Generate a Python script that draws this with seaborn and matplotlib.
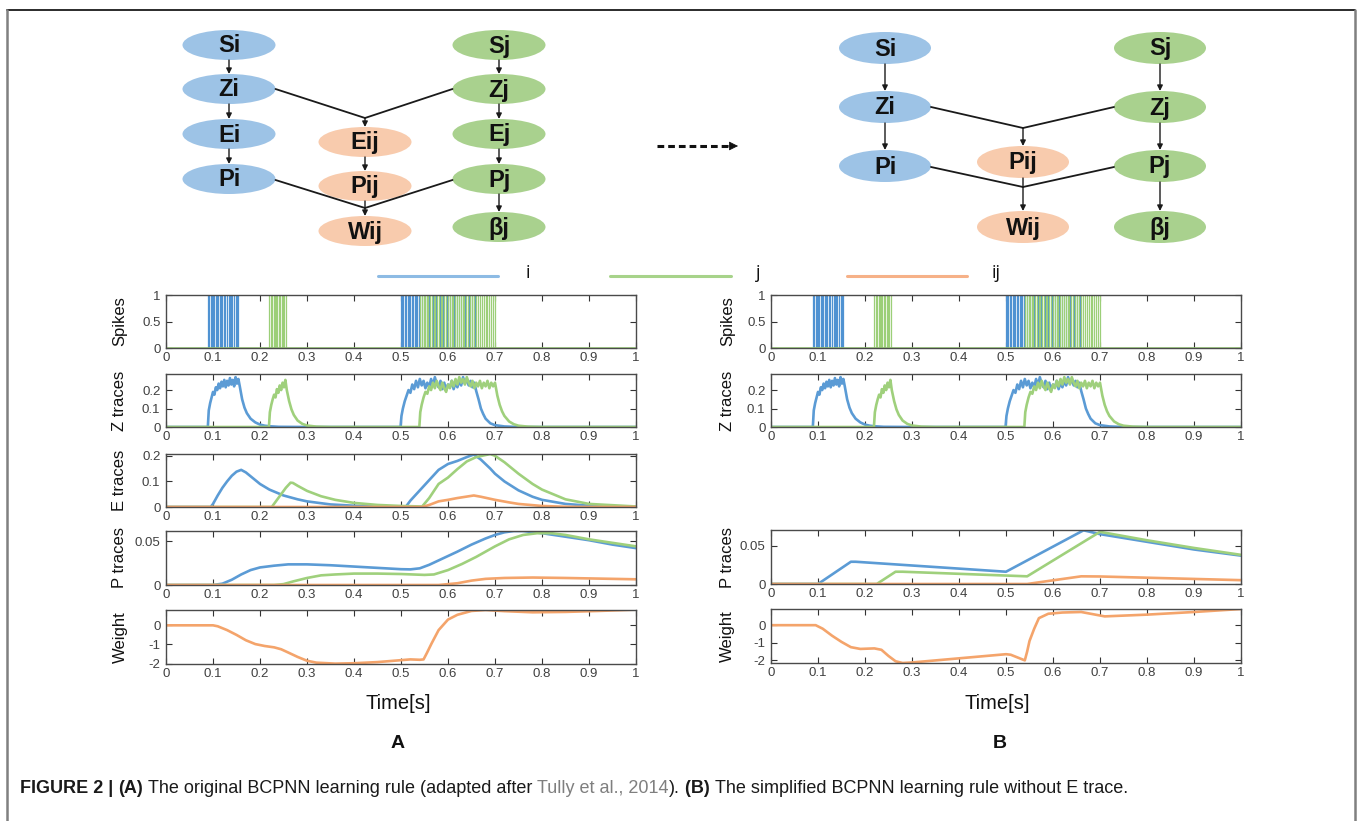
import numpy as np
import matplotlib
matplotlib.use('Agg')
import matplotlib.pyplot as plt
import seaborn as sns
from matplotlib.patches import Ellipse

sns.set_theme(style='white')
plt.rcParams['font.family'] = ['Liberation Sans', 'DejaVu Sans']
plt.rcParams['axes.unicode_minus'] = False

# ---------------- data ----------------
# spike times (s)
spk_i = [0.090, 0.092, 0.095, 0.098, 0.100, 0.103, 0.106, 0.109, 0.111, 0.114, 0.117, 0.120,
         0.124, 0.126, 0.129, 0.133, 0.136, 0.138, 0.141, 0.145, 0.148, 0.150, 0.154,
         0.500, 0.503, 0.505, 0.508, 0.511, 0.514, 0.517, 0.520, 0.523, 0.526, 0.529, 0.532,
         0.535, 0.538, 0.545, 0.552, 0.560, 0.568, 0.575, 0.583, 0.590, 0.598, 0.605, 0.612,
         0.620, 0.628, 0.636, 0.644, 0.652, 0.658]
spk_j = [0.220, 0.223, 0.226, 0.229, 0.231, 0.234, 0.237, 0.240, 0.243, 0.246, 0.249, 0.252, 0.255,
         0.541, 0.544, 0.548, 0.551, 0.555, 0.558, 0.562, 0.566, 0.570, 0.573, 0.577, 0.580,
         0.585, 0.588, 0.592, 0.596, 0.600, 0.604, 0.608, 0.611, 0.615, 0.619, 0.623, 0.627,
         0.631, 0.635, 0.639, 0.643, 0.647, 0.651, 0.655, 0.660, 0.664, 0.668, 0.672, 0.676,
         0.680, 0.684, 0.688, 0.692, 0.696, 0.699]

# Z traces
zi_t = [0.000, 0.089, 0.091, 0.094, 0.097, 0.100, 0.103, 0.106, 0.109, 0.112, 0.115, 0.118, 0.121,
        0.124, 0.127, 0.130, 0.133, 0.136, 0.139, 0.142, 0.145, 0.148, 0.151, 0.154, 0.157,
        0.162, 0.167, 0.172, 0.180, 0.190, 0.200, 0.210, 0.220, 0.240, 0.300,
        0.499, 0.501, 0.504, 0.508, 0.512, 0.516, 0.520, 0.524, 0.528, 0.532, 0.536, 0.540, 0.544,
        0.548, 0.552, 0.556, 0.560, 0.564, 0.568, 0.572, 0.576, 0.580, 0.584, 0.588, 0.592, 0.596,
        0.600, 0.604, 0.608, 0.612, 0.616, 0.620, 0.624, 0.628, 0.632, 0.636, 0.640, 0.644, 0.648,
        0.652, 0.656, 0.660, 0.665, 0.670, 0.675, 0.680, 0.690, 0.700, 0.720, 0.750, 1.000]
zi_v = [0.000, 0.000, 0.090, 0.130, 0.160, 0.190, 0.175, 0.215, 0.200, 0.235, 0.210, 0.245, 0.220,
        0.255, 0.215, 0.250, 0.225, 0.265, 0.230, 0.255, 0.220, 0.270, 0.235, 0.260, 0.220,
        0.150, 0.105, 0.075, 0.045, 0.025, 0.013, 0.007, 0.004, 0.001, 0.000,
        0.000, 0.060, 0.100, 0.140, 0.170, 0.200, 0.185, 0.230, 0.205, 0.250, 0.215, 0.260, 0.225,
        0.250, 0.210, 0.240, 0.215, 0.260, 0.225, 0.270, 0.235, 0.215, 0.250, 0.205, 0.240, 0.200,
        0.230, 0.215, 0.250, 0.205, 0.240, 0.215, 0.250, 0.225, 0.270, 0.235, 0.260, 0.225, 0.250,
        0.215, 0.240, 0.195, 0.150, 0.100, 0.070, 0.045, 0.020, 0.010, 0.003, 0.000, 0.000]
zj_t = [0.000, 0.219, 0.221, 0.224, 0.227, 0.230, 0.233, 0.236, 0.239, 0.242, 0.245, 0.248, 0.251,
        0.254, 0.257, 0.262, 0.267, 0.272, 0.280, 0.290, 0.300, 0.320, 0.350,
        0.539, 0.541, 0.544, 0.548, 0.552, 0.556, 0.560, 0.564, 0.568, 0.572, 0.576, 0.580, 0.584,
        0.588, 0.592, 0.596, 0.600, 0.604, 0.608, 0.612, 0.616, 0.620, 0.624, 0.628, 0.632, 0.636,
        0.640, 0.644, 0.648, 0.652, 0.656, 0.660, 0.664, 0.668, 0.672, 0.676, 0.680, 0.684, 0.688,
        0.692, 0.696, 0.700, 0.705, 0.710, 0.715, 0.720, 0.730, 0.740, 0.750, 0.770, 0.800, 1.000]
zj_v = [0.000, 0.000, 0.080, 0.120, 0.150, 0.175, 0.160, 0.205, 0.185, 0.225, 0.200, 0.240, 0.215,
        0.255, 0.200, 0.140, 0.095, 0.065, 0.035, 0.017, 0.008, 0.002, 0.000,
        0.000, 0.080, 0.120, 0.160, 0.190, 0.180, 0.220, 0.200, 0.240, 0.210, 0.250, 0.220, 0.200,
        0.240, 0.210, 0.190, 0.230, 0.210, 0.250, 0.220, 0.260, 0.230, 0.270, 0.240, 0.260, 0.230,
        0.270, 0.240, 0.220, 0.250, 0.210, 0.240, 0.220, 0.250, 0.210, 0.240, 0.220, 0.250, 0.210,
        0.240, 0.220, 0.240, 0.170, 0.120, 0.085, 0.060, 0.030, 0.015, 0.007, 0.002, 0.000, 0.000]

# E traces (panel A)
ei_t = [0.0, 0.095, 0.10, 0.11, 0.12, 0.13, 0.14, 0.15, 0.16, 0.17, 0.18, 0.19, 0.20, 0.22, 0.25,
        0.28, 0.30, 0.35, 0.40, 0.45, 0.51, 0.52, 0.54, 0.56, 0.58, 0.60, 0.62, 0.64, 0.655, 0.67,
        0.69, 0.70, 0.72, 0.75, 0.78, 0.80, 0.85, 0.90, 1.0]
ei_v = [0.0, 0.0, 0.012, 0.045, 0.075, 0.100, 0.122, 0.138, 0.145, 0.135, 0.120, 0.105, 0.090, 0.068, 0.045,
        0.030, 0.022, 0.010, 0.005, 0.002, 0.0, 0.025, 0.065, 0.105, 0.145, 0.168, 0.180, 0.195, 0.205, 0.185,
        0.150, 0.130, 0.100, 0.065, 0.040, 0.028, 0.012, 0.005, 0.001]
ej_t = [0.0, 0.225, 0.235, 0.245, 0.255, 0.265, 0.27, 0.28, 0.30, 0.33, 0.36, 0.40, 0.45, 0.50, 0.545,
        0.56, 0.58, 0.60, 0.62, 0.64, 0.66, 0.69, 0.70, 0.72, 0.75, 0.78, 0.80, 0.85, 0.90, 1.0]
ej_v = [0.0, 0.0, 0.025, 0.050, 0.075, 0.095, 0.094, 0.083, 0.063, 0.042, 0.028, 0.016, 0.008, 0.004, 0.002,
        0.035, 0.090, 0.115, 0.148, 0.178, 0.195, 0.207, 0.200, 0.175, 0.130, 0.090, 0.068, 0.030, 0.012, 0.002]
eij_t = [0.0, 0.545, 0.56, 0.58, 0.60, 0.62, 0.655, 0.67, 0.70, 0.73, 0.75, 0.80, 0.85, 0.90, 1.0]
eij_v = [0.0, 0.0, 0.008, 0.022, 0.028, 0.035, 0.045, 0.040, 0.028, 0.018, 0.012, 0.004, 0.001, 0.0, 0.0]

# P traces (panel A)
pAi_t = [0.0, 0.10, 0.12, 0.14, 0.16, 0.18, 0.20, 0.23, 0.26, 0.30, 0.35, 0.40, 0.45, 0.50, 0.52,
         0.54, 0.56, 0.58, 0.60, 0.62, 0.65, 0.68, 0.70, 0.72, 0.74, 0.76, 0.80, 0.85, 0.90, 0.95, 1.0]
pAi_v = [0.0, 0.0, 0.0015, 0.006, 0.012, 0.017, 0.020, 0.022, 0.0235, 0.0235, 0.0225, 0.021, 0.0195, 0.018, 0.0178,
         0.019, 0.023, 0.028, 0.033, 0.038, 0.046, 0.053, 0.057, 0.060, 0.0615, 0.0615, 0.059, 0.055, 0.051, 0.046, 0.042]
pAj_t = [0.0, 0.23, 0.25, 0.27, 0.30, 0.33, 0.36, 0.40, 0.45, 0.50, 0.55, 0.57, 0.60, 0.63, 0.66,
         0.70, 0.73, 0.76, 0.79, 0.82, 0.85, 0.90, 0.95, 1.0]
pAj_v = [0.0, 0.0, 0.001, 0.004, 0.008, 0.011, 0.012, 0.013, 0.013, 0.0125, 0.0115, 0.012, 0.017, 0.024, 0.032,
         0.044, 0.052, 0.057, 0.059, 0.059, 0.057, 0.052, 0.048, 0.044]
pAij_t = [0.0, 0.58, 0.62, 0.65, 0.68, 0.72, 0.78, 0.85, 0.90, 1.0]
pAij_v = [0.0, 0.0, 0.002, 0.005, 0.007, 0.008, 0.0085, 0.008, 0.0075, 0.0065]

# Weight (panel A)
wA_t = [0.0, 0.10, 0.11, 0.13, 0.15, 0.17, 0.19, 0.21, 0.23, 0.245, 0.26, 0.28, 0.30, 0.32, 0.36,
        0.40, 0.45, 0.50, 0.52, 0.54, 0.548, 0.555, 0.565, 0.58, 0.60, 0.62, 0.65, 0.68, 0.72, 0.78,
        0.85, 0.92, 1.0]
wA_v = [0.0, 0.0, -0.05, -0.25, -0.50, -0.78, -0.98, -1.08, -1.15, -1.25, -1.42, -1.65, -1.85, -1.95, -2.00,
        -1.98, -1.92, -1.82, -1.78, -1.80, -1.78, -1.45, -0.95, -0.25, 0.30, 0.55, 0.75, 0.80, 0.74, 0.68,
        0.70, 0.75, 0.82]

# P traces (panel B)
pBi_t = [0.0, 0.10, 0.17, 0.18, 0.50, 0.665, 0.70, 0.80, 0.90, 1.0]
pBi_v = [0.0, 0.0, 0.029, 0.029, 0.016, 0.070, 0.065, 0.055, 0.045, 0.037]
pBj_t = [0.0, 0.225, 0.265, 0.28, 0.545, 0.70, 0.80, 0.90, 1.0]
pBj_v = [0.0, 0.0, 0.016, 0.016, 0.010, 0.068, 0.057, 0.047, 0.038]
pBij_t = [0.0, 0.545, 0.66, 0.70, 1.0]
pBij_v = [0.0, 0.0, 0.010, 0.0098, 0.005]

# Weight (panel B)
wB_t = [0.0, 0.095, 0.11, 0.13, 0.15, 0.17, 0.19, 0.22, 0.235, 0.25, 0.265, 0.28, 0.30, 0.50, 0.51,
        0.54, 0.545, 0.55, 0.56, 0.57, 0.59, 0.62, 0.66, 0.71, 0.80, 0.90, 1.0]
wB_v = [0.0, 0.0, -0.20, -0.60, -0.95, -1.25, -1.35, -1.32, -1.40, -1.75, -2.05, -2.15, -2.12, -1.65, -1.68,
        -2.00, -1.50, -0.90, -0.20, 0.40, 0.65, 0.72, 0.75, 0.50, 0.60, 0.75, 0.92]

legend_labels = ['i', 'j', 'ij']
xtick_vals = [0.0, 0.1, 0.2, 0.3, 0.4, 0.5, 0.6, 0.7, 0.8, 0.9, 1.0]
xtick_labels = ['0', '0.1', '0.2', '0.3', '0.4', '0.5', '0.6', '0.7', '0.8', '0.9', '1']

nodes_A = ['Si', 'Zi', 'Ei', 'Pi', 'Sj', 'Zj', 'Ej', 'Pj', 'βj', 'Eij', 'Pij', 'Wij']
nodes_B = ['Si', 'Zi', 'Pi', 'Sj', 'Zj', 'Pj', 'βj', 'Pij', 'Wij']

# ---------------- styles ----------------
BLUE = '#5b9bd5'
GREEN = '#9fd07c'
ORANGE = '#f4a46b'
SPK_BLUE = '#4f92d2'
SPK_GREEN = '#9ccf78'
NODE_BLUE = '#9dc3e6'
NODE_GREEN = '#a9d18e'
NODE_ORANGE = '#f8cbad'
LW = 1.9

W, H = 1362, 821
fig = plt.figure(figsize=(W / 100, H / 100), dpi=100)
fig.patch.set_facecolor('white')

# overlay axes in pixel coordinates for diagram / legend / frame
ov = fig.add_axes([0, 0, 1, 1])
ov.set_xlim(0, W)
ov.set_ylim(H, 0)
ov.axis('off')

# figure frame
ov.plot([7, 1355], [10, 10], color='#1a1a1a', lw=1.3)
ov.plot([7, 7], [10, H], color='#808080', lw=1.8)
ov.plot([1355, 1355], [10, H], color='#808080', lw=1.8)


def node_color(n):
    if n.endswith('ij'):
        return NODE_ORANGE
    return NODE_BLUE if n.endswith('i') else NODE_GREEN


def node(x, y, text, color, w, h):
    ov.add_patch(Ellipse((x, y), w, h, facecolor=color, edgecolor='none', zorder=2))
    ov.text(x, y + 1, text, ha='center', va='center', fontsize=17, fontweight='bold',
            color='#111111', zorder=4)


def arrow(x0, y0, x1, y1):
    ov.annotate('', xy=(x1, y1), xytext=(x0, y0),
                arrowprops=dict(arrowstyle='-|>', color='#1a1a1a', lw=1.0,
                                mutation_scale=8, shrinkA=0, shrinkB=0), zorder=5)


def seg(x0, y0, x1, y1):
    ov.plot([x0, x1], [y0, y1], color='#1a1a1a', lw=1.3, zorder=3)


# ---- Diagram A ----
wA, hA = 93, 30
cL, cM, cR = 229, 365, 499
posA = {'Si': (cL, 45), 'Zi': (cL, 89), 'Ei': (cL, 134), 'Pi': (cL, 179),
        'Sj': (cR, 45), 'Zj': (cR, 89), 'Ej': (cR, 134), 'Pj': (cR, 179), 'βj': (cR, 227),
        'Eij': (cM, 142), 'Pij': (cM, 186), 'Wij': (cM, 231)}
for n in nodes_A:
    node(*posA[n], n, node_color(n), wA, hA)
for a, b in [('Si', 'Zi'), ('Zi', 'Ei'), ('Ei', 'Pi'), ('Sj', 'Zj'), ('Zj', 'Ej'), ('Ej', 'Pj'),
             ('Pj', 'βj'), ('Eij', 'Pij')]:
    arrow(posA[a][0], posA[a][1] + hA / 2, posA[b][0], posA[b][1] - hA / 2)
seg(cL + wA / 2, 89, cM, 118)
seg(cR - wA / 2, 89, cM, 118)
arrow(cM, 118, cM, 142 - hA / 2)
seg(cL + wA / 2, 180, cM, 208)
seg(cR - wA / 2, 180, cM, 208)
arrow(cM, 186 + hA / 2, cM, 231 - hA / 2)

# ---- dashed arrow ----
ov.plot([657, 728], [146, 146], color='#111111', lw=2.2, linestyle=(0, (2.2, 1.3)))
ov.annotate('', xy=(738, 146), xytext=(726, 146),
            arrowprops=dict(arrowstyle='-|>', color='#111111', lw=0.5, mutation_scale=14,
                            shrinkA=0, shrinkB=0))

# ---- Diagram B ----
wB, hB = 92, 32
bL, bM, bR = 885, 1023, 1160
posB = {'Si': (bL, 48), 'Zi': (bL, 107), 'Pi': (bL, 166),
        'Sj': (bR, 48), 'Zj': (bR, 107), 'Pj': (bR, 166), 'βj': (bR, 227),
        'Pij': (bM, 162), 'Wij': (bM, 227)}
for n in nodes_B:
    node(*posB[n], n, node_color(n), wB, hB)
for a, b in [('Si', 'Zi'), ('Zi', 'Pi'), ('Sj', 'Zj'), ('Zj', 'Pj'), ('Pj', 'βj')]:
    arrow(posB[a][0], posB[a][1] + hB / 2, posB[b][0], posB[b][1] - hB / 2)
seg(bL + wB / 2, 107, bM, 128)
seg(bR - wB / 2, 107, bM, 128)
arrow(bM, 128, bM, 162 - hB / 2)
seg(bL + wB / 2, 167, bM, 187)
seg(bR - wB / 2, 167, bM, 187)
arrow(bM, 162 + hB / 2, bM, 227 - hB / 2)

# ---- legend ----
leg_cols = ['#8dbbe4', '#a7d38a', '#f6b188']
leg_x = [(378, 498, 528), (610, 731, 758), (847, 967, 996)]
for (x0, x1, xt), c, lab in zip(leg_x, leg_cols, legend_labels):
    ov.plot([x0, x1], [276, 276], color=c, lw=2.2)
    ov.text(xt, 273, lab, ha='center', va='center', fontsize=13, color='#111111',
            family=['Open Sans', 'DejaVu Sans'])


# ---------------- plot axes ----------------
def add_ax(x0, x1, y0, y1):
    return fig.add_axes([x0 / W, 1 - y1 / H, (x1 - x0) / W, (y1 - y0) / H])


def style(ax, ylim, yticks, ylabels, ylabel, lx):
    ax.set_xlim(0, 1)
    ax.set_ylim(*ylim)
    ax.set_xticks(xtick_vals)
    ax.set_xticklabels(xtick_labels)
    ax.set_yticks(yticks)
    ax.set_yticklabels(ylabels)
    ax.tick_params(axis='both', direction='in', length=4, width=0.8, top=True, right=True,
                   bottom=True, left=True, labelsize=9.5, labelcolor='#404040', color='#333333')
    ax.tick_params(axis='x', pad=3)
    ax.tick_params(axis='y', pad=4)
    for s in ax.spines.values():
        s.set_color('#4a4a4a')
        s.set_linewidth(1.0)
    ax.set_xlabel('')
    ax.set_ylabel(ylabel, fontsize=12, color='#111111')
    ax.yaxis.set_label_coords(lx, 0.5)
    ax.grid(False)


def line(ax, t, v, c):
    sns.lineplot(x=t, y=v, ax=ax, color=c, lw=LW, estimator=None, sort=False)


rows = {'spk': (295, 348), 'z': (374, 427), 'e': (454, 507)}
for (xa, xb, lx, ptop, wtop, ylimP, ylimW, pdata, wdata, has_e) in [
        (166, 636, -0.082, 531, 610, (0, 0.0615), (-2.02, 0.80),
         ((pAi_t, pAi_v), (pAj_t, pAj_v), (pAij_t, pAij_v)), (wA_t, wA_v), True),
        (771, 1241, -0.076, 530, 609, (0, 0.0704), (-2.15, 0.92),
         ((pBi_t, pBi_v), (pBj_t, pBj_v), (pBij_t, pBij_v)), (wB_t, wB_v), False)]:
    # spikes
    ax = add_ax(xa, xb, *rows['spk'])
    ax.vlines(spk_i, 0, 1, color=SPK_BLUE, lw=0.9)
    ax.vlines(spk_j, 0, 1, color=SPK_GREEN, lw=0.9)
    ax.axhline(0, color=SPK_GREEN, lw=LW)
    style(ax, (0, 1), [0, 0.5, 1], ['0', '0.5', '1'], 'Spikes', lx)
    # Z traces
    ax = add_ax(xa, xb, *rows['z'])
    line(ax, zi_t, zi_v, BLUE)
    line(ax, zj_t, zj_v, GREEN)
    style(ax, (0, 0.287), [0, 0.1, 0.2], ['0', '0.1', '0.2'], 'Z traces', lx)
    # E traces
    if has_e:
        ax = add_ax(xa, xb, *rows['e'])
        line(ax, ei_t, ei_v, BLUE)
        line(ax, ej_t, ej_v, GREEN)
        line(ax, eij_t, eij_v, ORANGE)
        style(ax, (0, 0.207), [0, 0.1, 0.2], ['0', '0.1', '0.2'], 'E traces', lx)
    # P traces
    ax = add_ax(xa, xb, ptop, ptop + 54)
    for (t, v), c in zip(pdata, [BLUE, GREEN, ORANGE]):
        line(ax, t, v, c)
    style(ax, ylimP, [0, 0.05], ['0', '0.05'], 'P traces', lx)
    # Weight
    ax = add_ax(xa, xb, wtop, wtop + 54)
    line(ax, wdata[0], wdata[1], ORANGE)
    style(ax, ylimW, [-2, -1, 0], ['-2', '-1', '0'], 'Weight', lx)

# axis titles / panel letters
fig.text(398 / W, 1 - 703 / H, 'Time[s]', ha='center', va='center', fontsize=14.5, color='#111111')
fig.text(997 / W, 1 - 703 / H, 'Time[s]', ha='center', va='center', fontsize=14.5, color='#111111')
fig.text(398 / W, 1 - 743 / H, 'A', ha='center', va='center', fontsize=14, fontweight='bold', color='#111111')
fig.text(1000 / W, 1 - 743 / H, 'B', ha='center', va='center', fontsize=14, fontweight='bold', color='#111111')

# ---------------- caption ----------------
pieces = [('FIGURE 2 | ', 'bold', '#1a1a1a'), ('(A)', 'bold', '#1a1a1a'),
          (' The original BCPNN learning rule (adapted after ', 'normal', '#1a1a1a'),
          ('Tully et al., 2014', 'normal', '#7f7f7f'), (').', 'normal', '#1a1a1a'),
          (' (B)', 'bold', '#1a1a1a'),
          (' The simplified BCPNN learning rule without E trace.', 'normal', '#1a1a1a')]
renderer = fig.canvas.get_renderer()
fs = 11.0
total = 0
tmp = []
for s, wgt, c in pieces:
    t = fig.text(0, 0, s.replace(' ', '\u00a0'), fontsize=fs, fontweight=wgt)
    total += t.get_window_extent(renderer).width
    tmp.append(t)
for t in tmp:
    t.remove()
fs = fs * 1108 / total
x = 20
for s, wgt, c in pieces:
    t = fig.text(x / W, 1 - 788 / H, s.replace(' ', '\u00a0'), fontsize=fs, fontweight=wgt, color=c,
                 ha='left', va='center')
    x += t.get_window_extent(renderer).width

fig.savefig('out.png', dpi=100, facecolor='white')
